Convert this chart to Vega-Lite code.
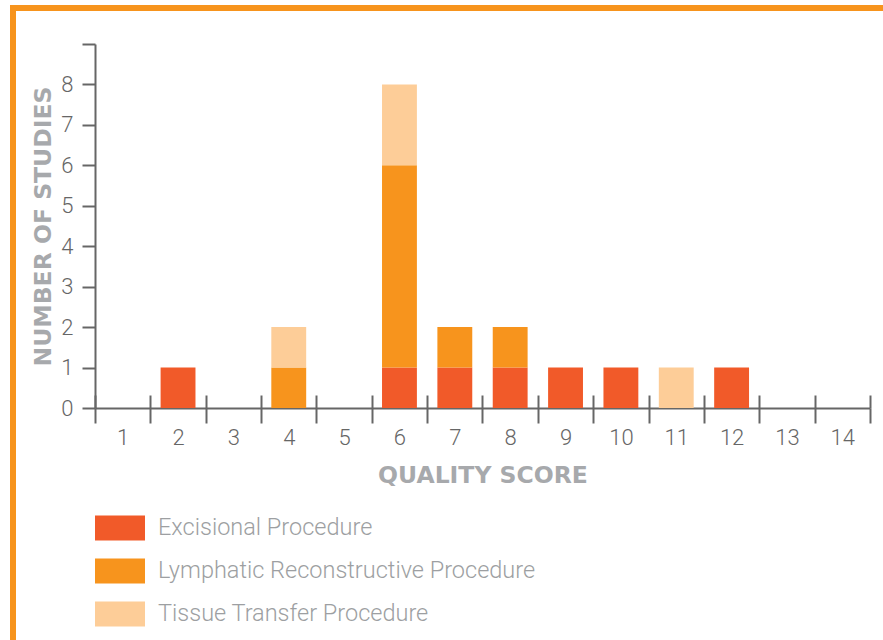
{
  "$schema": "https://vega.github.io/schema/vega-lite/v6.json",
  "width": 870,
  "height": 632,
  "autosize": {"type": "none"},
  "padding": {"left": 13, "top": 8, "right": 0, "bottom": 0},
  "background": "white",
  "config": {
    "view": {"stroke": "#F7941D", "strokeWidth": 6, "strokeDash": [870, 1502, 632]},
    "font": "Roboto",
    "axis": {
      "domainColor": "#666666",
      "domainWidth": 2,
      "tickColor": "#666666",
      "tickWidth": 2,
      "labelFont": "Roboto",
      "labelFontWeight": 300,
      "labelFontSize": 22,
      "labelColor": "#666666",
      "titleFont": "DejaVu Sans",
      "titleFontWeight": "bold",
      "titleFontSize": 23.5,
      "titleColor": "#A7A9AC",
      "grid": false
    }
  },
  "data": {
    "values": [
      {"score": 2, "type": "Excisional Procedure", "n": 1},
      {"score": 4, "type": "Lymphatic Reconstructive Procedure", "n": 1},
      {"score": 4, "type": "Tissue Transfer Procedure", "n": 1},
      {"score": 6, "type": "Excisional Procedure", "n": 1},
      {"score": 6, "type": "Lymphatic Reconstructive Procedure", "n": 5},
      {"score": 6, "type": "Tissue Transfer Procedure", "n": 2},
      {"score": 7, "type": "Excisional Procedure", "n": 1},
      {"score": 7, "type": "Lymphatic Reconstructive Procedure", "n": 1},
      {"score": 8, "type": "Excisional Procedure", "n": 1},
      {"score": 8, "type": "Lymphatic Reconstructive Procedure", "n": 1},
      {"score": 9, "type": "Excisional Procedure", "n": 1},
      {"score": 10, "type": "Excisional Procedure", "n": 1},
      {"score": 11, "type": "Tissue Transfer Procedure", "n": 1},
      {"score": 12, "type": "Excisional Procedure", "n": 1}
    ]
  },
  "resolve": {"axis": {"x": "independent"}},
  "layer": [
    {
      "mark": {"type": "bar", "width": {"band": 0.63}},
      "encoding": {
        "x": {
          "field": "score",
          "type": "ordinal",
          "scale": {"domain": [1,2,3,4,5,6,7,8,9,10,11,12,13,14], "range": [82, 857], "paddingInner": 0, "paddingOuter": 0},
          "axis": {
            "orient": "bottom",
            "offset": -232,
            "tickBand": "extent",
            "tickSize": 15,
            "labelAngle": 0,
            "labelPadding": 4,
            "title": "QUALITY SCORE",
            "titlePadding": 15
          }
        },
        "y": {
          "field": "n",
          "type": "quantitative",
          "stack": "zero",
          "scale": {"domain": [0, 9], "range": [400, 36], "nice": false},
          "axis": {
            "offset": -82,
            "values": [0,1,2,3,4,5,6,7,8,9],
            "labelExpr": "datum.value == 9 ? '' : datum.label",
            "tickSize": 13,
            "labelPadding": 9,
            "title": "NUMBER OF STUDIES",
            "titlePadding": 5
          }
        },
        "color": {
          "field": "type",
          "type": "nominal",
          "scale": {
            "domain": ["Excisional Procedure", "Lymphatic Reconstructive Procedure", "Tissue Transfer Procedure"],
            "range": ["#F15A29", "#F7941D", "#FDCD98"]
          },
          "legend": {
            "orient": "none",
            "legendX": 82,
            "legendY": 495,
            "title": null,
            "symbolType": "M-1,-0.5H1V0.5H-1Z",
            "symbolSize": 2500,
            "symbolStrokeWidth": 0,
            "symbolOpacity": 1,
            "labelFont": "Roboto",
            "labelFontWeight": 300,
            "labelFontSize": 23.5,
            "labelColor": "#9D9FA2",
            "labelOffset": 13,
            "labelLimit": 500,
            "rowPadding": 5
          }
        },
        "order": {"field": "type", "sort": "ascending"}
      }
    },
    {
      "mark": {"type": "bar", "opacity": 0},
      "encoding": {
        "x": {
          "field": "score",
          "type": "ordinal",
          "axis": {
            "orient": "bottom",
            "offset": -232,
            "tickBand": "extent",
            "tickSize": -13,
            "labels": false,
            "domain": false,
            "title": null
          }
        }
      }
    }
  ]
}
